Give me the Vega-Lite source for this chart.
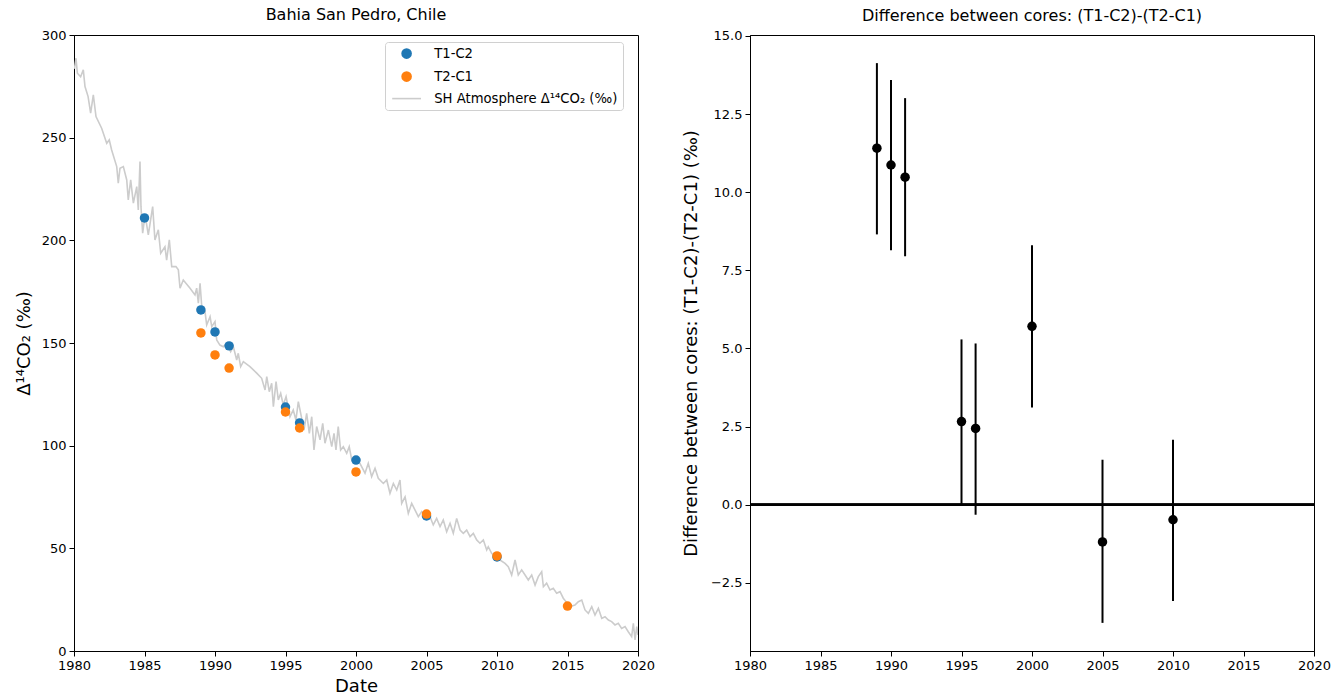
{
  "$schema": "https://vega.github.io/schema/vega-lite/v6.json",
  "padding": {"top": 6, "left": 14, "right": 2, "bottom": 2},
  "spacing": 25,
  "config": {
    "font": "DejaVu Sans",
    "view": {"stroke": "#000", "strokeWidth": 1},
    "axis": {"grid": false, "labelFlush": false, "labelOverlap": false, "domainColor": "#000", "domainWidth": 1, "tickColor": "#000", "tickSize": 5, "labelPadding": 3, "labelFontSize": 13, "labelColor": "#000", "titleFontSize": 18, "titleFontWeight": "normal", "titleColor": "#000"},
    "title": {"fontSize": 16, "fontWeight": "normal", "color": "#000", "offset": 6},
    "legend": {
      "title": null,
      "orient": "none",
      "legendX": 311,
      "legendY": 7,
      "padding": 5,
      "strokeColor": "#d0d0d0",
      "fillColor": "#ffffff",
      "cornerRadius": 3,
      "labelFontSize": 13.2,
      "labelColor": "#000",
      "labelOffset": 21,
      "labelLimit": 400,
      "rowPadding": 6,
      "symbolSize": 81,
      "symbolOffset": 10
    }
  },
  "datasets": {
    "atm": [
      {"t":1980.03,"v":283.5},{"t":1980.14,"v":288.7},{"t":1980.24,"v":281.4},{"t":1980.47,"v":279.7},{"t":1980.66,"v":283.0},{"t":1980.78,"v":274.9},{"t":1981.00,"v":270.0},{"t":1981.18,"v":261.9},{"t":1981.37,"v":270.8},{"t":1981.56,"v":260.3},{"t":1981.96,"v":254.6},{"t":1982.32,"v":247.3},{"t":1982.50,"v":248.9},{"t":1982.67,"v":244.0},{"t":1983.03,"v":235.9},{"t":1983.14,"v":227.8},{"t":1983.26,"v":235.1},{"t":1983.50,"v":235.9},{"t":1983.74,"v":229.4},{"t":1983.85,"v":219.7},{"t":1984.02,"v":229.4},{"t":1984.21,"v":218.1},{"t":1984.45,"v":226.2},{"t":1984.56,"v":214.8},{"t":1984.68,"v":238.4},{"t":1984.75,"v":216.4},{"t":1984.87,"v":203.5},{"t":1985.04,"v":212.4},{"t":1985.27,"v":202.6},{"t":1985.58,"v":216.4},{"t":1985.74,"v":200.2},{"t":1985.98,"v":205.1},{"t":1986.15,"v":193.7},{"t":1986.45,"v":196.9},{"t":1986.57,"v":190.4},{"t":1986.76,"v":200.2},{"t":1986.93,"v":187.2},{"t":1987.23,"v":187.2},{"t":1987.40,"v":185.6},{"t":1987.52,"v":176.7},{"t":1987.75,"v":180.7},{"t":1988.23,"v":176.7},{"t":1988.58,"v":173.4},{"t":1988.70,"v":176.7},{"t":1988.82,"v":169.4},{"t":1988.94,"v":179.1},{"t":1989.06,"v":167.7},{"t":1989.29,"v":165.3},{"t":1989.41,"v":158.8},{"t":1989.65,"v":162.8},{"t":1989.77,"v":158.0},{"t":1990.00,"v":160.4},{"t":1990.12,"v":151.5},{"t":1990.35,"v":149.0},{"t":1990.59,"v":148.2},{"t":1990.83,"v":149.9},{"t":1991.11,"v":145.8},{"t":1991.30,"v":148.2},{"t":1991.54,"v":141.7},{"t":1991.65,"v":145.0},{"t":1991.82,"v":138.5},{"t":1992.01,"v":140.9},{"t":1992.48,"v":138.5},{"t":1992.96,"v":135.3},{"t":1993.31,"v":132.8},{"t":1993.55,"v":127.1},{"t":1993.67,"v":133.6},{"t":1993.85,"v":126.3},{"t":1994.02,"v":130.4},{"t":1994.14,"v":119.0},{"t":1994.33,"v":131.2},{"t":1994.49,"v":122.3},{"t":1994.66,"v":125.5},{"t":1994.84,"v":119.8},{"t":1995.04,"v":123.9},{"t":1995.32,"v":114.1},{"t":1995.55,"v":117.4},{"t":1995.74,"v":112.5},{"t":1995.91,"v":121.4},{"t":1996.15,"v":113.3},{"t":1996.31,"v":107.6},{"t":1996.50,"v":115.7},{"t":1996.69,"v":106.0},{"t":1996.86,"v":114.1},{"t":1997.02,"v":97.9},{"t":1997.21,"v":109.3},{"t":1997.45,"v":102.8},{"t":1997.64,"v":110.9},{"t":1997.80,"v":101.2},{"t":1998.04,"v":107.6},{"t":1998.28,"v":99.5},{"t":1998.44,"v":106.0},{"t":1998.58,"v":97.9},{"t":1998.74,"v":109.3},{"t":1998.91,"v":97.9},{"t":1999.10,"v":99.5},{"t":1999.34,"v":96.3},{"t":1999.52,"v":99.5},{"t":1999.70,"v":93.0},{"t":1999.93,"v":94.6},{"t":2000.28,"v":91.4},{"t":2000.64,"v":86.6},{"t":2000.87,"v":91.4},{"t":2001.11,"v":84.9},{"t":2001.35,"v":89.0},{"t":2001.58,"v":84.1},{"t":2001.94,"v":81.6},{"t":2002.18,"v":83.3},{"t":2002.41,"v":76.8},{"t":2002.65,"v":81.6},{"t":2002.89,"v":78.4},{"t":2003.12,"v":83.3},{"t":2003.24,"v":71.9},{"t":2003.48,"v":75.1},{"t":2003.71,"v":67.0},{"t":2003.95,"v":71.9},{"t":2004.18,"v":68.7},{"t":2004.42,"v":65.4},{"t":2004.66,"v":67.9},{"t":2004.89,"v":66.2},{"t":2005.25,"v":65.4},{"t":2005.48,"v":61.4},{"t":2005.72,"v":64.6},{"t":2005.96,"v":60.6},{"t":2006.19,"v":63.8},{"t":2006.43,"v":58.1},{"t":2006.67,"v":62.2},{"t":2006.90,"v":57.3},{"t":2007.14,"v":64.6},{"t":2007.38,"v":58.9},{"t":2007.61,"v":57.3},{"t":2007.85,"v":58.9},{"t":2008.09,"v":55.7},{"t":2008.32,"v":57.3},{"t":2008.56,"v":54.1},{"t":2008.79,"v":52.5},{"t":2009.03,"v":54.1},{"t":2009.27,"v":49.2},{"t":2009.38,"v":50.8},{"t":2009.62,"v":47.6},{"t":2009.86,"v":45.9},{"t":2010.21,"v":44.3},{"t":2010.57,"v":42.7},{"t":2010.80,"v":41.1},{"t":2011.04,"v":37.0},{"t":2011.28,"v":44.3},{"t":2011.51,"v":37.0},{"t":2011.75,"v":39.5},{"t":2011.99,"v":37.0},{"t":2012.22,"v":34.6},{"t":2012.46,"v":37.0},{"t":2012.70,"v":32.1},{"t":2012.93,"v":36.2},{"t":2013.17,"v":38.6},{"t":2013.29,"v":31.3},{"t":2013.52,"v":33.0},{"t":2013.76,"v":29.7},{"t":2013.99,"v":30.5},{"t":2014.23,"v":28.1},{"t":2014.47,"v":28.9},{"t":2014.70,"v":25.7},{"t":2015.18,"v":21.6},{"t":2015.53,"v":22.4},{"t":2015.77,"v":24.0},{"t":2016.01,"v":24.8},{"t":2016.24,"v":20.0},{"t":2016.48,"v":18.3},{"t":2016.72,"v":21.6},{"t":2016.95,"v":17.5},{"t":2017.19,"v":20.8},{"t":2017.43,"v":15.9},{"t":2017.66,"v":16.7},{"t":2017.90,"v":15.1},{"t":2018.13,"v":14.3},{"t":2018.37,"v":12.7},{"t":2018.60,"v":13.5},{"t":2018.84,"v":11.0},{"t":2019.08,"v":11.9},{"t":2019.31,"v":9.4},{"t":2019.55,"v":7.0},{"t":2019.67,"v":13.5},{"t":2019.79,"v":5.4},{"t":2019.91,"v":11.9},{"t":2020.00,"v":7.8}
    ],
    "cores": [
      {"year":1985,"series":"T1-C2","value":210.9},{"year":1989,"series":"T1-C2","value":166.1},{"year":1990,"series":"T1-C2","value":155.4},{"year":1991,"series":"T1-C2","value":148.6},{"year":1995,"series":"T1-C2","value":118.8},{"year":1996,"series":"T1-C2","value":111.1},{"year":2000,"series":"T1-C2","value":93.0},{"year":2005,"series":"T1-C2","value":65.8},{"year":2010,"series":"T1-C2","value":45.8},
      {"year":1989,"series":"T2-C1","value":154.9},{"year":1990,"series":"T2-C1","value":144.2},{"year":1991,"series":"T2-C1","value":137.8},{"year":1995,"series":"T2-C1","value":116.4},{"year":1996,"series":"T2-C1","value":108.6},{"year":2000,"series":"T2-C1","value":87.2},{"year":2005,"series":"T2-C1","value":66.7},{"year":2010,"series":"T2-C1","value":46.3},{"year":2015,"series":"T2-C1","value":21.9}
    ],
    "diff": [
      {"year":1989,"diff":11.41,"lo":8.65,"hi":14.13},
      {"year":1990,"diff":10.87,"lo":8.14,"hi":13.59},
      {"year":1991,"diff":10.48,"lo":7.95,"hi":13.01},
      {"year":1995,"diff":2.66,"lo":0.0,"hi":5.29},
      {"year":1996,"diff":2.44,"lo":-0.32,"hi":5.16},
      {"year":2000,"diff":5.71,"lo":3.11,"hi":8.30},
      {"year":2005,"diff":-1.19,"lo":-3.78,"hi":1.44},
      {"year":2010,"diff":-0.48,"lo":-3.08,"hi":2.08}
    ]
  },
  "hconcat": [
    {
      "width": 564,
      "height": 616,
      "title": "Bahia San Pedro, Chile",
      "layer": [
        {
          "data": {"name": "atm"},
          "mark": {"type": "line", "strokeWidth": 1.6, "clip": true},
          "encoding": {
            "x": {"field": "t", "type": "quantitative", "scale": {"domain": [1980, 2020], "nice": false, "zero": false}, "axis": {"title": "Date", "values": [1980,1985,1990,1995,2000,2005,2010,2015,2020], "format": "d", "titlePadding": 5}},
            "y": {"field": "v", "type": "quantitative", "scale": {"domain": [0, 300], "nice": false}, "axis": {"title": "Δ¹⁴CO₂ (‰)", "values": [0,50,100,150,200,250,300], "titlePadding": 8}},
            "color": {
              "datum": "SH Atmosphere Δ¹⁴CO₂ (‰)",
              "type": "nominal",
              "scale": {"domain": ["T1-C2", "T2-C1", "SH Atmosphere Δ¹⁴CO₂ (‰)"], "range": ["#1f77b4", "#ff7f0e", "#cccccc"]},
              "legend": {
                "title": null,
                "orient": "none",
                "legendX": 311,
                "legendY": 7,
                "labelLimit": 400,
                "encode": {
                  "symbols": {
                    "update": {
                      "shape": {"signal": "datum.value === 'T1-C2' || datum.value === 'T2-C1' ? 'circle' : 'M-3.2,0H3.2'"},
                      "size": {"value": 81},
                      "fill": {"signal": "datum.value === 'T1-C2' ? '#1f77b4' : datum.value === 'T2-C1' ? '#ff7f0e' : 'transparent'"},
                      "stroke": {"signal": "datum.value === 'T1-C2' || datum.value === 'T2-C1' ? 'transparent' : '#cccccc'"},
                      "strokeWidth": {"value": 1.6},
                      "opacity": {"value": 1}
                    }
                  }
                }
              }
            }
          }
        },
        {
          "data": {"name": "cores"},
          "mark": {"type": "circle", "size": 90, "opacity": 1},
          "encoding": {
            "x": {"field": "year", "type": "quantitative"},
            "y": {"field": "value", "type": "quantitative"},
            "color": {
              "field": "series",
              "type": "nominal",
              "legend": {
                "title": null,
                "orient": "none",
                "legendX": 311,
                "legendY": 7,
                "labelLimit": 400,
                "encode": {
                  "symbols": {
                    "update": {
                      "shape": {"signal": "datum.value === 'T1-C2' || datum.value === 'T2-C1' ? 'circle' : 'M-3.2,0H3.2'"},
                      "size": {"value": 81},
                      "fill": {"signal": "datum.value === 'T1-C2' ? '#1f77b4' : datum.value === 'T2-C1' ? '#ff7f0e' : 'transparent'"},
                      "stroke": {"signal": "datum.value === 'T1-C2' || datum.value === 'T2-C1' ? 'transparent' : '#cccccc'"},
                      "strokeWidth": {"value": 1.6},
                      "opacity": {"value": 1}
                    }
                  }
                }
              }
            }
          }
        }
      ]
    },
    {
      "width": 564,
      "height": 616,
      "title": "Difference between cores: (T1-C2)-(T2-C1)",
      "data": {"name": "diff"},
      "layer": [
        {
          "mark": {"type": "rule", "color": "#000", "strokeWidth": 2},
          "encoding": {"y": {"datum": 0, "type": "quantitative"}}
        },
        {
          "mark": {"type": "rule", "color": "#000", "strokeWidth": 2},
          "encoding": {
            "x": {"field": "year", "type": "quantitative", "scale": {"domain": [1980, 2020], "nice": false, "zero": false}, "axis": {"title": null, "values": [1980,1985,1990,1995,2000,2005,2010,2015,2020], "format": "d"}},
            "y": {"field": "lo", "type": "quantitative", "scale": {"domain": [-4.68, 15.03], "nice": false, "zero": false}, "axis": {"title": "Difference between cores: (T1-C2)-(T2-C1) (‰)", "values": [-2.5,0,2.5,5,7.5,10,12.5,15], "format": ".1f", "titlePadding": 10}},
            "y2": {"field": "hi"}
          }
        },
        {
          "mark": {"type": "circle", "size": 90, "color": "#000", "opacity": 1},
          "encoding": {
            "x": {"field": "year", "type": "quantitative"},
            "y": {"field": "diff", "type": "quantitative"}
          }
        }
      ]
    }
  ]
}
